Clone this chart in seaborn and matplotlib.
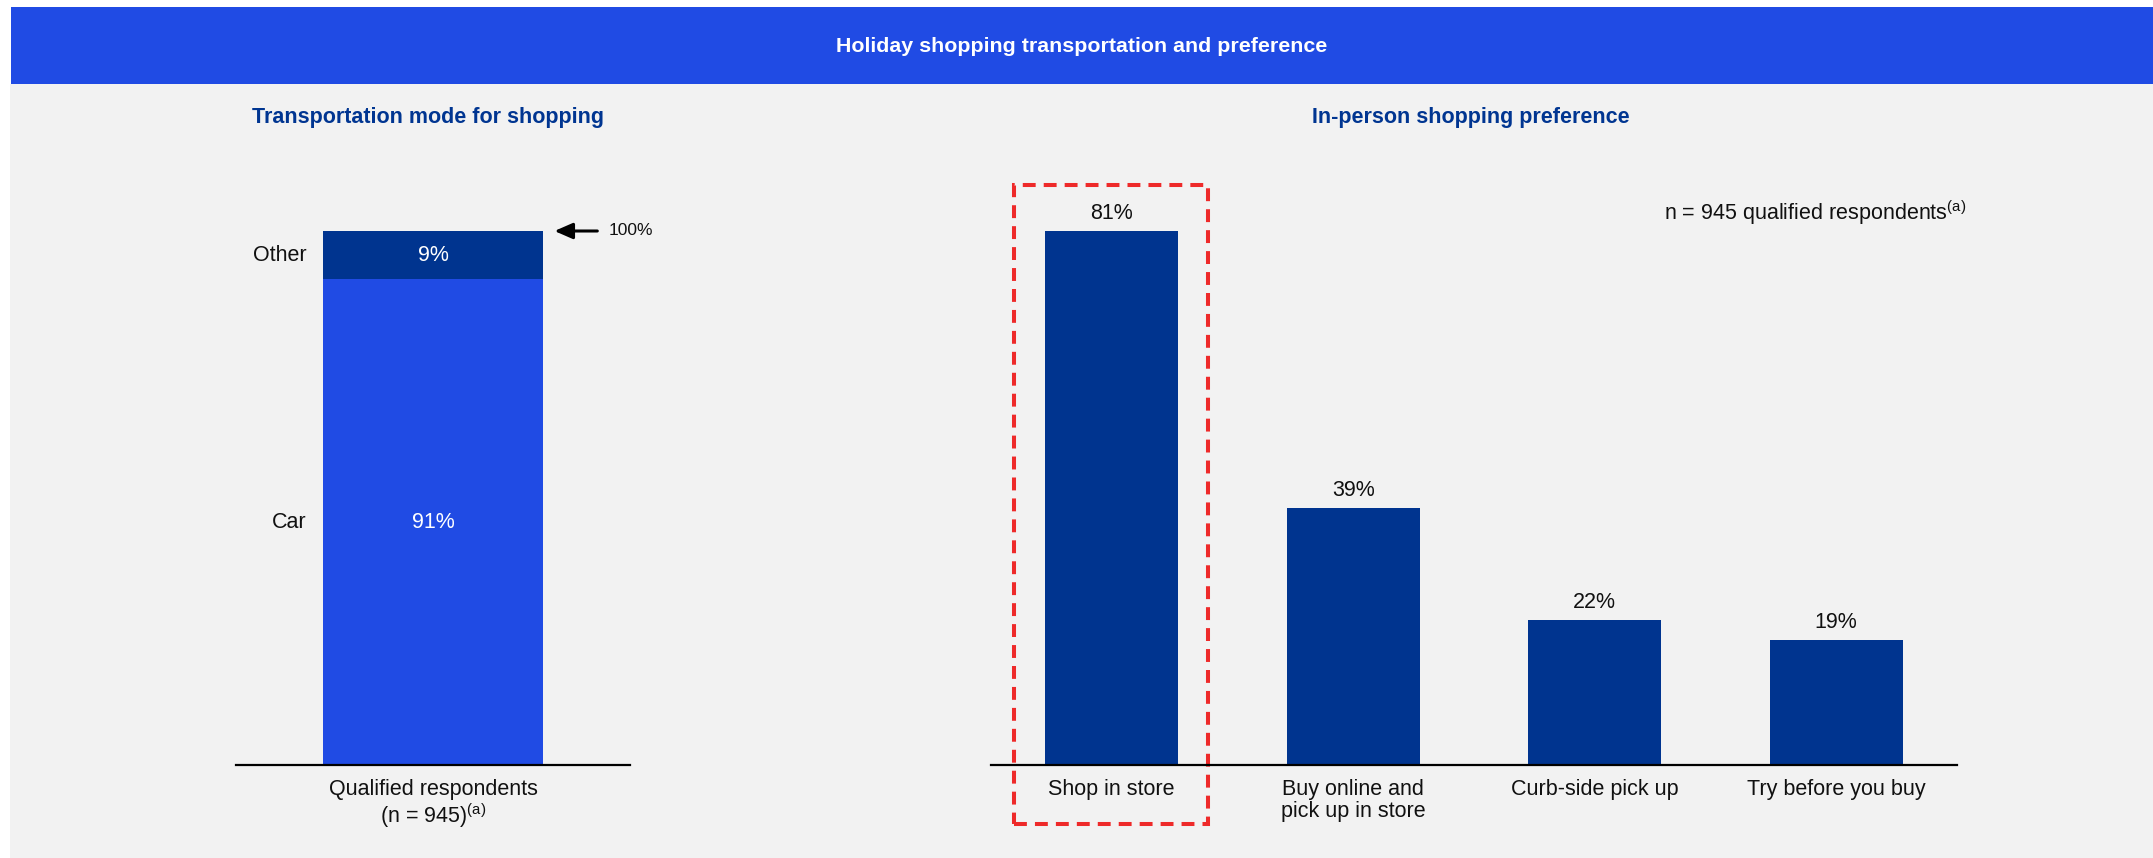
import seaborn as sns
import pandas as pd
import matplotlib.pyplot as plt
from matplotlib.patches import Rectangle
import matplotlib.transforms as mtransforms

# data
mode_labels = ["Other", "Car"]
mode_values = [9, 91]
mode_xlabel = "Qualified respondents\n(n = 945)$^{\\mathrm{(a)}}$"

pref_labels = ["Shop in store", "Buy online and\npick up in store", "Curb-side pick up", "Try before you buy"]
pref_values = [81, 39, 22, 19]

BRIGHT = "#204BE4"
DARK = "#00348F"
GRAY = "#F2F2F2"

sns.set_style("white")
plt.rcParams["font.family"] = ["Liberation Sans", "DejaVu Sans"]
plt.rcParams["mathtext.fontset"] = "custom"
plt.rcParams["mathtext.rm"] = "Liberation Sans"

W, H = 2153, 858
fig = plt.figure(figsize=(W / 100, H / 100), dpi=100, facecolor="white")

# background panels
fig.patches.append(Rectangle((10 / W, 0), 1, 1 - 84 / H, transform=fig.transFigure,
                             facecolor=GRAY, edgecolor="none", zorder=-2))
fig.patches.append(Rectangle((11 / W, 1 - 84 / H), 1, 77 / H, transform=fig.transFigure,
                             facecolor=BRIGHT, edgecolor="none", zorder=-1))
fig.text(1082 / W, 1 - 46 / H, "Holiday shopping transportation and preference",
         color="white", fontsize=15.4, fontweight="bold", ha="center", va="center")

fig.text(428 / W, 1 - 117 / H, "Transportation mode for shopping", color="#003591",
         fontsize=15.5, fontweight="bold", ha="center", va="center")
fig.text(1471 / W, 1 - 117 / H, "In-person shopping preference", color="#003591",
         fontsize=15.5, fontweight="bold", ha="center", va="center")

bottom = 1 - 765 / H
height = 534 / H

# left: stacked bar
ax1 = fig.add_axes([236 / W, bottom, 394 / W, height])
ax1.set_facecolor("none")
df1 = pd.DataFrame({"group": [mode_xlabel], "total": [sum(mode_values)], "car": [mode_values[1]]})
sns.barplot(data=df1, x="group", y="total", color=DARK, saturation=1, width=0.56, linewidth=0, ax=ax1)
sns.barplot(data=df1, x="group", y="car", color=BRIGHT, saturation=1, width=0.56, linewidth=0, ax=ax1)
ax1.set_xlim(-0.5, 0.5)
ax1.set_ylim(0, 100)

bar = ax1.patches[0]
x_left = bar.get_x()
x_right = bar.get_x() + bar.get_width()
total = sum(mode_values)

# segment labels
ax1.text(0, mode_values[1] + mode_values[0] / 2, f"{mode_values[0]}%", color="white",
         fontsize=15.5, ha="center", va="center")
ax1.text(0, mode_values[1] / 2, f"{mode_values[1]}%", color="white",
         fontsize=15.5, ha="center", va="center")
ax1.annotate(mode_labels[0], (x_left, mode_values[1] + mode_values[0] / 2),
             xytext=(-16, 0), textcoords="offset pixels", ha="right", va="center",
             fontsize=15.5, color="#111111")
ax1.annotate(mode_labels[1], (x_left, mode_values[1] / 2),
             xytext=(-16, 0), textcoords="offset pixels", ha="right", va="center",
             fontsize=15.5, color="#111111")

# 100% arrow
ax1.annotate("", xy=(x_right, total), xytext=(54, 0), textcoords="offset pixels",
             annotation_clip=False,
             arrowprops=dict(arrowstyle="-|>,head_length=1.1,head_width=0.48", color="black",
                             lw=2.2, shrinkA=0, shrinkB=8, mutation_scale=10))
ax1.annotate(f"{total}%", (x_right, total), xytext=(65, 0), textcoords="offset pixels",
             ha="left", va="center", fontsize=12.5, color="#111111", annotation_clip=False)

# right: bar chart
ax2 = fig.add_axes([991 / W, bottom, 966 / W, height])
ax2.set_facecolor("none")
df2 = pd.DataFrame({"pref": pref_labels, "value": pref_values})
sns.barplot(data=df2, x="pref", y="value", color=DARK, saturation=1, width=0.55, linewidth=0, ax=ax2)
ax2.set_xlim(-0.5, len(pref_labels) - 0.5)
ax2.set_ylim(0, max(pref_values))
for p, v in zip(ax2.patches, pref_values):
    ax2.annotate(f"{v}%", (p.get_x() + p.get_width() / 2, v), xytext=(0, 7),
                 textcoords="offset pixels", ha="center", va="bottom", fontsize=15.5,
                 color="#111111", annotation_clip=False)
ax2.text(0.697, 1.034, "n = 945 qualified respondents$^{\\mathrm{(a)}}$", transform=ax2.transAxes,
         ha="left", va="center", fontsize=15.5, color="#111111")

# highlight box around first bar
blend = mtransforms.blended_transform_factory(ax2.transData, ax2.transAxes)
ax2.add_patch(Rectangle((-0.405, -0.11), 0.805, 1.196, transform=blend, fill=False,
                        edgecolor="#EE2A2A", lw=2.9, linestyle=(0, (3.2, 2.0)), clip_on=False))

for ax in (ax1, ax2):
    sns.despine(ax=ax, left=True)
    ax.spines["bottom"].set_color("black")
    ax.spines["bottom"].set_linewidth(1.6)
    ax.set_yticks([])
    ax.set_xlabel("")
    ax.set_ylabel("")
    ax.tick_params(axis="x", length=0, pad=10, labelsize=15.5, labelcolor="#111111")
    for t in ax.get_xticklabels():
        t.set_linespacing(1.05)

fig.savefig("out.png", dpi=100)
